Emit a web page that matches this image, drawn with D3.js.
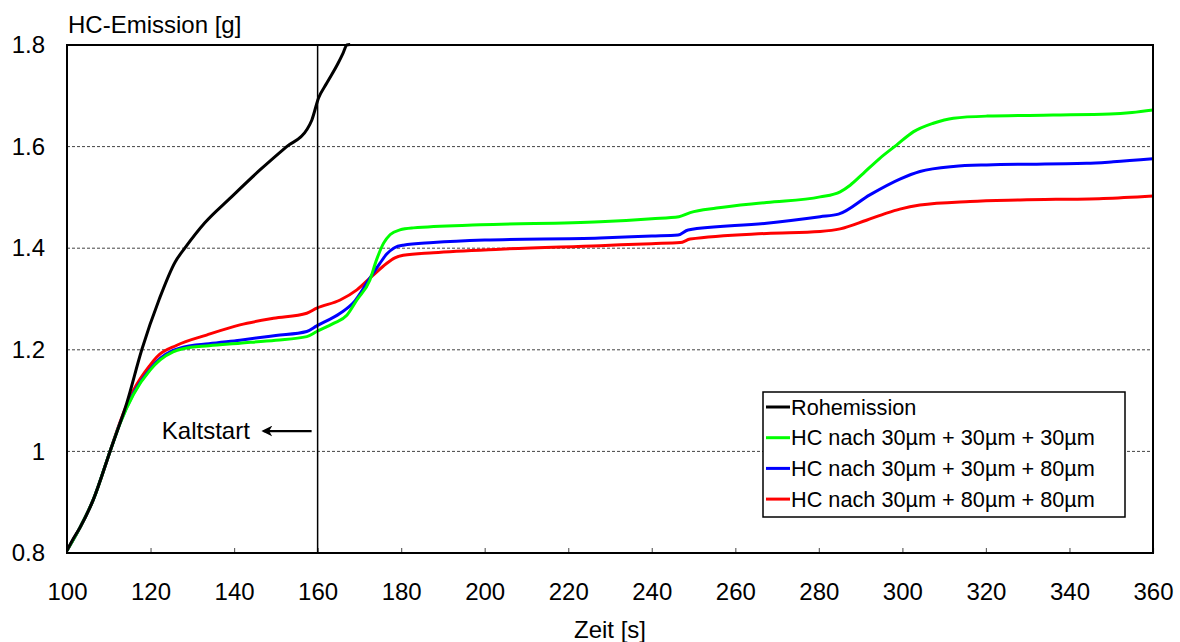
<!DOCTYPE html>
<html>
<head>
<meta charset="utf-8">
<script src="https://cdn.jsdelivr.net/npm/d3@7"></script>
<style>
  html, body { margin: 0; padding: 0; background: #fff; }
  svg text { font-family: "Liberation Sans", Arial, sans-serif; fill: #000; }
</style>
</head>
<body>
<svg id="chart" width="1180" height="642"></svg>
<script>
// Cumulative HC emission over time, [t in s, g]
const rohemission = [
  [100, 0.805], [101.5, 0.828], [103.1, 0.85], [106.3, 0.905], [110.3, 1.0],
  [114.3, 1.095], [117.9, 1.2], [122.1, 1.30], [125.9, 1.373], [128.2, 1.40],
  [133, 1.45], [139, 1.498], [146.2, 1.554], [152.6, 1.60], [157.4, 1.633],
  [158.6, 1.652], [160.2, 1.695], [162.2, 1.725], [164.9, 1.764],
  [166.1, 1.784], [167, 1.80], [167.8, 1.801]
];
const hc30_30_30 = [
  [100, 0.805], [103.1, 0.85], [106.3, 0.905], [110.3, 1.0], [112.7, 1.055],
  [115.9, 1.112], [119.9, 1.16], [122.3, 1.18], [125.4, 1.196], [127.8, 1.202],
  [134, 1.208], [141.4, 1.213], [150, 1.219], [157.4, 1.226], [159.8, 1.236],
  [163.8, 1.252], [167, 1.268], [169.4, 1.298], [172.5, 1.337], [174.1, 1.377],
  [175.8, 1.41], [177.4, 1.427], [179.7, 1.436], [182.9, 1.44], [198.9, 1.446],
  [227.6, 1.452], [240, 1.458], [246.5, 1.462], [249.2, 1.47], [255.5, 1.479],
  [267.5, 1.49], [280.3, 1.501], [285.1, 1.511], [287.5, 1.524], [290.6, 1.547],
  [294.6, 1.577], [298.6, 1.603], [302.6, 1.629], [307.4, 1.646], [312.2, 1.656],
  [320.2, 1.66], [336.1, 1.662], [349.7, 1.664], [355, 1.667], [360, 1.672]
];
const hc30_30_80 = [
  [100, 0.805], [103.1, 0.85], [106.3, 0.905], [110.3, 1.0], [112.7, 1.056],
  [115.9, 1.114], [119.9, 1.162], [122.3, 1.183], [125.4, 1.199], [127.8, 1.205],
  [134, 1.212], [141.4, 1.219], [150, 1.228], [157.4, 1.236], [159.8, 1.247],
  [165.4, 1.272], [168.5, 1.292], [172.5, 1.341], [174.9, 1.37], [176.6, 1.389],
  [178.4, 1.401], [180.5, 1.406], [187.7, 1.411], [200, 1.416], [227.6, 1.42],
  [240, 1.424], [246.3, 1.426], [248.7, 1.436], [267.5, 1.449], [280.3, 1.462],
  [284.7, 1.467], [292.2, 1.505], [299.4, 1.536], [304.2, 1.551], [312.2, 1.561],
  [320.2, 1.564], [344.1, 1.567], [350.5, 1.57], [360, 1.576]
];
const hc30_80_80 = [
  [100, 0.805], [103.1, 0.85], [106.3, 0.905], [110.3, 1.0], [112.7, 1.058],
  [115.9, 1.12], [119.9, 1.17], [121.5, 1.186], [126.3, 1.209], [133.4, 1.229],
  [141.4, 1.249], [149.4, 1.262], [157.4, 1.272], [159.8, 1.282], [165.4, 1.298],
  [169.4, 1.318], [173.3, 1.347], [176.5, 1.37], [178.5, 1.381], [180.5, 1.386],
  [187.7, 1.391], [203.7, 1.398], [227.6, 1.405], [240, 1.409], [246.8, 1.411],
  [249.2, 1.418], [267.5, 1.429], [280.3, 1.433], [285.1, 1.438], [291.4, 1.455],
  [296.2, 1.469], [299.4, 1.477], [304.2, 1.485], [316.2, 1.492], [328.2, 1.495],
  [348.1, 1.498], [360, 1.503]
];

const seriesNames = ["Rohemission", "HC nach 30µm + 30µm + 30µm",
                     "HC nach 30µm + 30µm + 80µm", "HC nach 30µm + 80µm + 80µm"];
const seriesColors = ["#000000", "#00ff00", "#0000ff", "#ff0000"];
const seriesData = [rohemission, hc30_30_30, hc30_30_80, hc30_80_80];

const xTicks = [100, 120, 140, 160, 180, 200, 220, 240, 260, 280, 300, 320, 340, 360];
const yTicks = [0.8, 1.0, 1.2, 1.4, 1.6, 1.8];
const yTickLabels = ["0.8", "1", "1.2", "1.4", "1.6", "1.8"];
const gridValues = [1.0, 1.2, 1.4, 1.6];
const kaltstartTime = 160;

const margin = { left: 67, top: 45, right: 27, bottom: 89 };
const W = 1180, H = 642;
const iw = W - margin.left - margin.right;
const ih = H - margin.top - margin.bottom;

const svg = d3.select("#chart");
const g = svg.append("g").attr("transform", `translate(${margin.left},${margin.top})`);

const x = d3.scaleLinear().domain([100, 360]).range([0, iw]);
const y = d3.scaleLinear().domain([0.8, 1.8]).range([ih, 0]);

// dashed horizontal gridlines
g.selectAll("line.grid").data(gridValues).join("line")
  .attr("class", "grid")
  .attr("x1", 0).attr("x2", iw)
  .attr("y1", d => y(d)).attr("y2", d => y(d))
  .attr("stroke", "#444").attr("stroke-width", 1)
  .attr("stroke-dasharray", "3,2");

// x ticks point inward from the bottom axis
const xAxis = d3.axisBottom(x).tickValues(xTicks).tickSize(-5).tickPadding(30)
  .tickFormat(d3.format("d"));
const xg = g.append("g").attr("transform", `translate(0,${ih})`).call(xAxis);
xg.select(".domain").remove();
xg.selectAll(".tick line").attr("stroke", "#666").attr("stroke-width", 1.2);
xg.selectAll(".tick text").style("font-size", "24px").attr("dy", "0.71em");

const yAxis = d3.axisLeft(y).tickValues(yTicks).tickSize(0).tickPadding(22)
  .tickFormat((d, i) => yTickLabels[i]);
const yg = g.append("g").call(yAxis);
yg.select(".domain").remove();
yg.selectAll(".tick text").style("font-size", "24px");

// data lines
const line = d3.line().x(d => x(d[0])).y(d => y(d[1])).curve(d3.curveMonotoneX);
g.append("clipPath").attr("id", "plotclip")
  .append("rect").attr("x", 0).attr("y", -2).attr("width", iw).attr("height", ih + 2);
const drawOrder = [3, 2, 1, 0];
g.append("g").attr("clip-path", "url(#plotclip)")
  .selectAll("path.series").data(drawOrder).join("path")
  .attr("class", "series")
  .attr("d", i => line(seriesData[i]))
  .attr("fill", "none")
  .attr("stroke", i => seriesColors[i])
  .attr("stroke-width", 3)
  .attr("stroke-linejoin", "round");

// Kaltstart marker line
g.append("line")
  .attr("x1", x(kaltstartTime)).attr("x2", x(kaltstartTime))
  .attr("y1", 0).attr("y2", ih)
  .attr("stroke", "#000").attr("stroke-width", 1.5);

// plot frame
g.append("rect").attr("x", 0).attr("y", 0).attr("width", iw).attr("height", ih)
  .attr("fill", "none").attr("stroke", "#000").attr("stroke-width", 2);

// Kaltstart annotation with left-pointing arrow
const defs = svg.append("defs");
defs.append("marker").attr("id", "arrowhead")
  .attr("viewBox", "0 0 10 10").attr("refX", 8).attr("refY", 5)
  .attr("markerWidth", 5).attr("markerHeight", 5).attr("orient", "auto")
  .append("path").attr("d", "M0,0 L10,5 L0,10 L3,5 Z").attr("fill", "#000");
const annY = y(1.04);
g.append("text").attr("x", x(122.7)).attr("y", annY).attr("dy", "0.35em")
  .style("font-size", "24px").text("Kaltstart");
g.append("line")
  .attr("x1", x(kaltstartTime) - 6).attr("x2", x(kaltstartTime) - 54)
  .attr("y1", annY).attr("y2", annY)
  .attr("stroke", "#000").attr("stroke-width", 2.2)
  .attr("marker-end", "url(#arrowhead)");

// axis titles
svg.append("text").attr("x", 68).attr("y", 25).attr("dy", "0.35em")
  .style("font-size", "24px").text("HC-Emission [g]");
svg.append("text").attr("x", 610).attr("y", 630).attr("dy", "0.35em")
  .attr("text-anchor", "middle").style("font-size", "24px").text("Zeit [s]");

// legend
const lg = svg.append("g").attr("transform", "translate(763,392)");
lg.append("rect").attr("width", 362).attr("height", 125)
  .attr("fill", "#fff").attr("stroke", "#000").attr("stroke-width", 1.5);
const rows = lg.selectAll("g.row").data(seriesNames).join("g")
  .attr("class", "row")
  .attr("transform", (d, i) => `translate(0,${15 + i * 30.7})`);
rows.append("line").attr("x1", 3).attr("x2", 27).attr("y1", 0).attr("y2", 0)
  .attr("stroke", (d, i) => seriesColors[i]).attr("stroke-width", 3);
rows.append("text").attr("x", 28).attr("y", 0).attr("dy", "0.35em")
  .style("font-size", "21.7px").text(d => d);
</script>
</body>
</html>
